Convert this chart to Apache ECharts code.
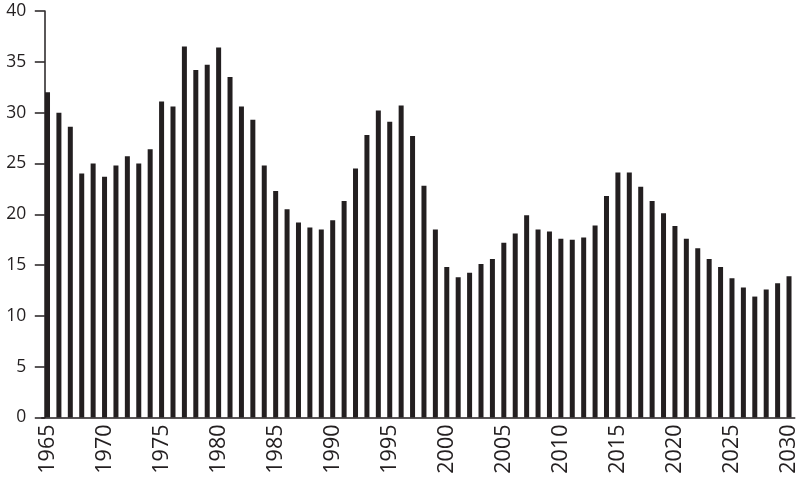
<!DOCTYPE html>
<html>
<head>
<meta charset="utf-8">
<script src="https://cdn.jsdelivr.net/npm/echarts@6/dist/echarts.min.js"></script>
<style>
html,body{margin:0;padding:0;background:#fff;}
#chart{width:800px;height:482px;}
</style>
</head>
<body>
<div id="chart"></div>
<script>
const years = [];
for (let y = 1965; y <= 2030; y++) years.push(String(y));

const values = [
  32.0, 30.0, 28.6, 24.0, 25.0, 23.7, 24.8, 25.7, 25.0, 26.4,
  31.1, 30.6, 36.5, 34.2, 34.7, 36.4, 33.5, 30.6, 29.3, 24.8,
  22.3, 20.5, 19.2, 18.7, 18.5, 19.4, 21.3, 24.5, 27.8, 30.2,
  29.1, 30.7, 27.7, 22.8, 18.5, 14.8, 13.8, 14.25, 15.1, 15.6,
  17.2, 18.1, 19.9, 18.5, 18.3, 17.6, 17.5, 17.7, 18.9, 21.8,
  24.1, 24.1, 22.7, 21.3, 20.1, 18.85, 17.6, 16.65, 15.6, 14.8,
  13.7, 12.8, 11.9, 12.6, 13.2, 13.9
];

const yTicks = { min: 0, max: 40, step: 5 };

const ink = '#231f20';
const chart = echarts.init(document.getElementById('chart'), null, { renderer: 'canvas' });
chart.setOption({
  animation: false,
  backgroundColor: '#ffffff',
  grid: { left: 41.8, right: 2.8, top: 11, bottom: 64.5, containLabel: false },
  xAxis: {
    type: 'category',
    data: years,
    boundaryGap: true,
    axisLine: { show: true, lineStyle: { color: ink, width: 1.5 } },
    axisTick: { show: false },
    axisLabel: {
      interval: 4,
      rotate: 90,
      margin: 7,
      color: ink,
      fontFamily: 'Open Sans',
      fontWeight: 'normal',
      fontSize: 21.5
    },
    splitLine: { show: false }
  },
  yAxis: {
    type: 'value',
    min: yTicks.min,
    max: yTicks.max,
    interval: yTicks.step,
    offset: -3,
    axisLine: { show: true, lineStyle: { color: ink, width: 1.5 } },
    axisTick: { show: true, length: 10, lineStyle: { color: ink, width: 1.5 } },
    axisLabel: {
      margin: 18.5,
      color: ink,
      fontFamily: 'Open Sans',
      fontWeight: 'normal',
      fontSize: 17.5
    },
    splitLine: { show: false }
  },
  series: [{
    type: 'bar',
    data: values,
    barWidth: 5,
    itemStyle: { color: ink }
  }]
});
</script>
</body>
</html>
